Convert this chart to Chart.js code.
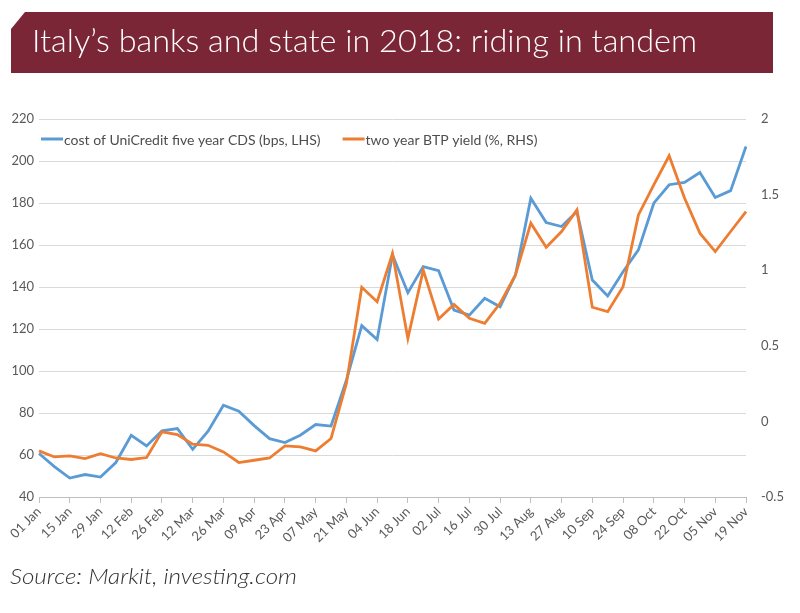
<!DOCTYPE html>
<html>
<head>
<meta charset="utf-8">
<script src="https://cdn.jsdelivr.net/npm/chart.js@4/dist/chart.umd.min.js"></script>
<style>
  html, body { margin: 0; padding: 0; background: #fff; }
  #wrap { position: relative; width: 800px; height: 613px; overflow: hidden; }
  #bar { position: absolute; left: 11px; top: 12px; width: 762px; height: 61px; background: #7B2636;
         clip-path: polygon(14px 0, 100% 0, 100% 100%, 0 100%, 0 17px); }
  #title { position: absolute; left: 32px; top: 20px; color: #fff; font-family: Lato, sans-serif; font-weight: 300;
           font-size: 31px; white-space: nowrap; transform-origin: 0 0; line-height: 40px; }
  #source { position: absolute; left: 10px; top: 563px; color: #333; font-family: Lato, sans-serif; font-weight: 300;
            font-style: italic; font-size: 21px; white-space: nowrap; transform-origin: 0 0; line-height: 26px; }
  canvas { position: absolute; left: 0; top: 0; }
</style>
</head>
<body>
<div id="wrap">
  <canvas id="c" width="800" height="613"></canvas>
  <div id="bar"></div>
  <div id="title">Italy’s banks and state in 2018: riding in tandem</div>
  <div id="source">Source: Markit, investing.com</div>
</div>
<script>
// ---- data ----
const weeks = ['01 Jan','08 Jan','15 Jan','22 Jan','29 Jan','05 Feb','12 Feb','19 Feb','26 Feb','05 Mar',
  '12 Mar','19 Mar','26 Mar','02 Apr','09 Apr','16 Apr','23 Apr','30 Apr','07 May','14 May',
  '21 May','28 May','04 Jun','11 Jun','18 Jun','25 Jun','02 Jul','09 Jul','16 Jul','23 Jul',
  '30 Jul','06 Aug','13 Aug','20 Aug','27 Aug','03 Sep','10 Sep','17 Sep','24 Sep','01 Oct',
  '08 Oct','15 Oct','22 Oct','29 Oct','05 Nov','12 Nov','19 Nov'];
const cdsUniCredit = [60.7, 54.5, 49, 50.7, 49.5, 56.4, 69.4, 64.3, 71.5, 72.6,
  62.7, 71.3, 83.7, 80.9, 74, 67.8, 65.9, 69.4, 74.5, 73.8,
  95.6, 121.6, 115, 155.3, 137.3, 149.7, 147.8, 129, 126.6, 134.6,
  130.6, 145.7, 182.3, 170.7, 168.8, 175.9, 143.3, 135.7, 147.3, 157.7,
  179.9, 188.7, 189.8, 194.5, 182.6, 185.9, 206.9];
const btpYield2y = [-0.195, -0.235, -0.228, -0.246, -0.213, -0.242, -0.252, -0.239, -0.069, -0.087,
  -0.151, -0.158, -0.202, -0.272, -0.257, -0.242, -0.162, -0.169, -0.195, -0.113,
  0.251, 0.887, 0.792, 1.11, 0.549, 1.0, 0.677, 0.774, 0.682, 0.649,
  0.781, 0.969, 1.311, 1.152, 1.256, 1.399, 0.755, 0.726, 0.891, 1.366,
  1.565, 1.757, 1.477, 1.245, 1.123, 1.256, 1.388];
const seriesNames = ['cost of UniCredit five year CDS (bps, LHS)', 'two year BTP yield (%, RHS)'];
const leftTicks = [40, 60, 80, 100, 120, 140, 160, 180, 200, 220];
const rightTicks = [-0.5, 0, 0.5, 1, 1.5, 2];

// fit header texts to reference widths
function fit(id, w) {
  const el = document.getElementById(id);
  const r = el.getBoundingClientRect().width;
  el.style.transform = 'scaleX(' + (w / r) + ')';
}
fit('title', 665);
fit('source', 287);

const BLUE = '#5B9BD5', ORANGE = '#ED7D31';
const FONT = 'Lato, sans-serif';

const legendPlugin = {
  id: 'customLegend',
  afterDraw(chart) {
    const ctx = chart.ctx, a = chart.chartArea;
    const y = a.top + 20;
    ctx.save();
    ctx.font = '14px ' + FONT;
    ctx.textBaseline = 'middle';
    ctx.fillStyle = '#4d4d4d';
    let x = a.left + 2;
    chart.data.datasets.forEach((ds, i) => {
      ctx.strokeStyle = ds.borderColor;
      ctx.lineWidth = 3;
      ctx.beginPath();
      ctx.moveTo(x, y); ctx.lineTo(x + 22, y); ctx.stroke();
      ctx.fillText(ds.label, x + 23, y + 1);
      x += 23 + ctx.measureText(ds.label).width + 22;
    });
    ctx.restore();
  }
};

new Chart(document.getElementById('c'), {
  type: 'line',
  data: {
    labels: weeks,
    datasets: [
      { label: seriesNames[0], data: cdsUniCredit, yAxisID: 'y', borderColor: BLUE, backgroundColor: BLUE,
        borderWidth: 2.8, pointRadius: 0, tension: 0, order: 2 },
      { label: seriesNames[1], data: btpYield2y, yAxisID: 'y2', borderColor: ORANGE, backgroundColor: ORANGE,
        borderWidth: 2.8, pointRadius: 0, tension: 0, order: 1 }
    ]
  },
  options: {
    responsive: false,
    animation: false,
    layout: { padding: { top: 119, left: 0, right: 0, bottom: 0 } },
    plugins: { legend: { display: false }, tooltip: { enabled: false } },
    scales: {
      x: {
        offset: false,
        afterFit(s) { s.height = 116; },
        grid: { drawOnChartArea: false, drawTicks: true, tickLength: 6,
                color: c => (c.index % 2 === 0 ? '#bfbfbf' : 'rgba(0,0,0,0)') },
        border: { display: true, color: '#bfbfbf', width: 1 },
        ticks: { autoSkip: false, maxRotation: 45, minRotation: 45, padding: 1,
                 color: '#595959', font: { family: FONT, size: 13 },
                 callback: (v, i) => (i % 2 === 0 ? weeks[i] : '') }
      },
      y: {
        position: 'left', min: leftTicks[0], max: leftTicks[leftTicks.length - 1],
        afterFit(s) { s.width = 39; },
        afterBuildTicks(s) { s.ticks = leftTicks.map(v => ({ value: v })); },
        grid: { color: '#d9d9d9', drawTicks: false, lineWidth: 1 },
        border: { display: false },
        ticks: { padding: 5, color: '#595959', font: { family: FONT, size: 13 } }
      },
      y2: {
        position: 'right', min: rightTicks[0], max: rightTicks[rightTicks.length - 1],
        afterFit(s) { s.width = 54; },
        afterBuildTicks(s) { s.ticks = rightTicks.map(v => ({ value: v })); },
        grid: { display: false, drawOnChartArea: false },
        border: { display: false },
        ticks: { padding: 7, color: '#595959', font: { family: FONT, size: 13 },
                 callback: v => String(v) }
      }
    }
  },
  plugins: [legendPlugin]
});
</script>
</body>
</html>
